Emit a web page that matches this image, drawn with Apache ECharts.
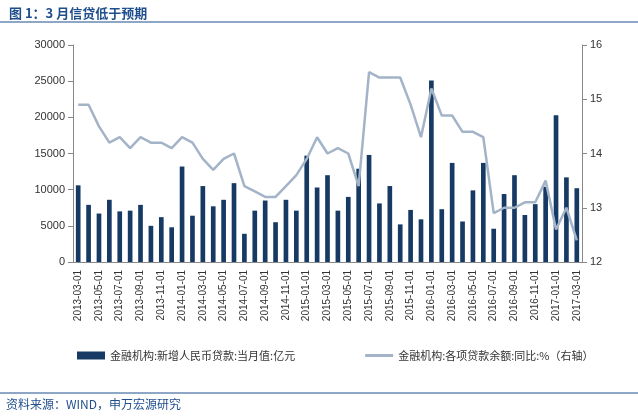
<!DOCTYPE html>
<html><head><meta charset="utf-8">
<script src="https://cdn.jsdelivr.net/npm/echarts@6/dist/echarts.min.js"></script>
<style>body{margin:0;background:#fff}#c{width:638px;height:420px}</style>
</head><body><div id="c"></div>
<script>
const months = [];
for (let y = 2013, m = 3; y < 2017 || (y === 2017 && m <= 3); m++) {
  if (m > 12) { m = 1; y++; if (y === 2017 && m > 3) break; }
  months.push(y + "-" + String(m).padStart(2, "0") + "-01");
}
const newLoans = [10600, 7900, 6700, 8600, 7000, 7100, 7900, 5000, 6200, 4800,
  13200, 6400, 10500, 7700, 8600, 10900, 3900, 7100, 8500, 5500,
  8600, 7100, 14700, 10300, 12000, 7100, 9000, 12900, 14800, 8100,
  10500, 5200, 7200, 5900, 25100, 7300, 13700, 5600, 9900, 13700,
  4600, 9400, 12000, 6500, 8000, 10400, 20300, 11700, 10200];
const loanGrowth = [14.9, 14.9, 14.5, 14.2, 14.3, 14.1, 14.3, 14.2, 14.2, 14.1,
  14.3, 14.2, 13.9, 13.7, 13.9, 14.0, 13.4, 13.3, 13.2, 13.2,
  13.4, 13.6, 13.9, 14.3, 14.0, 14.1, 14.0, 13.4, 15.5, 15.4,
  15.4, 15.4, 14.9, 14.3, 15.2, 14.7, 14.7, 14.4, 14.4, 14.3,
  12.9, 13.0, 13.0, 13.1, 13.1, 13.5, 12.6, 13.0, 12.4];

const chart = echarts.init(document.getElementById("c"));
const ft = "Liberation Sans";
chart.setOption({
  animation: false,
  textStyle: { fontFamily: ft },
  title: {
    text: "图 1：3 月信贷低于预期", left: 4, top: 2,
    textStyle: { color: "#1f4e8c", fontSize: 13, fontWeight: "bold", fontFamily: "Noto Sans CJK SC" }
  },
  graphic: [
    { type: "line", shape: { x1: 0, y1: 22, x2: 638, y2: 22 }, style: { stroke: "#1f4e8c", lineWidth: 1 } },
    { type: "line", shape: { x1: 0, y1: 393, x2: 638, y2: 393 }, style: { stroke: "#1f4e8c", lineWidth: 1 } },
    { type: "text", left: 6, top: 398, style: { text: "资料来源：WIND，申万宏源研究", fill: "#1f4e8c", font: "12px 'Noto Sans CJK SC'" } }
  ],
  legend: {
    bottom: 54, left: 72, itemGap: 70, itemWidth: 28, itemHeight: 8,
    textStyle: { fontSize: 11, color: "#333", fontFamily: "Noto Sans CJK SC" },
    data: [
      { name: "金融机构:新增人民币贷款:当月值:亿元", icon: "rect" },
      { name: "金融机构:各项贷款余额:同比:%（右轴）", icon: "path://M0,4L28,4L28,7L0,7Z" }
    ]
  },
  grid: { left: 73, right: 56, top: 45, bottom: 158 },
  xAxis: {
    type: "category", data: months,
    axisLine: { lineStyle: { color: "#888" } },
    axisTick: { interval: 1, alignWithLabel: false },
    axisLabel: { interval: 1, rotate: 90, fontSize: 10, color: "#333" }
  },
  yAxis: [
    { type: "value", min: 0, max: 30000, interval: 5000, splitLine: { show: false },
      axisLine: { show: true, lineStyle: { color: "#888" } }, axisTick: { show: true },
      axisLabel: { fontSize: 11, color: "#333", formatter: (v) => String(v) } },
    { type: "value", min: 12, max: 16, interval: 1, splitLine: { show: false },
      axisLine: { show: true, lineStyle: { color: "#888" } }, axisTick: { show: true },
      axisLabel: { fontSize: 11, color: "#333" } }
  ],
  series: [
    { name: "金融机构:新增人民币贷款:当月值:亿元", type: "bar", data: newLoans,
      barWidth: "45%", itemStyle: { color: "#163a63" } },
    { name: "金融机构:各项贷款余额:同比:%（右轴）", type: "line", yAxisIndex: 1, data: loanGrowth,
      symbol: "none", lineStyle: { color: "#a3b3c8", width: 2.5 }, itemStyle: { color: "#a3b3c8" } }
  ]
});
</script></body></html>
